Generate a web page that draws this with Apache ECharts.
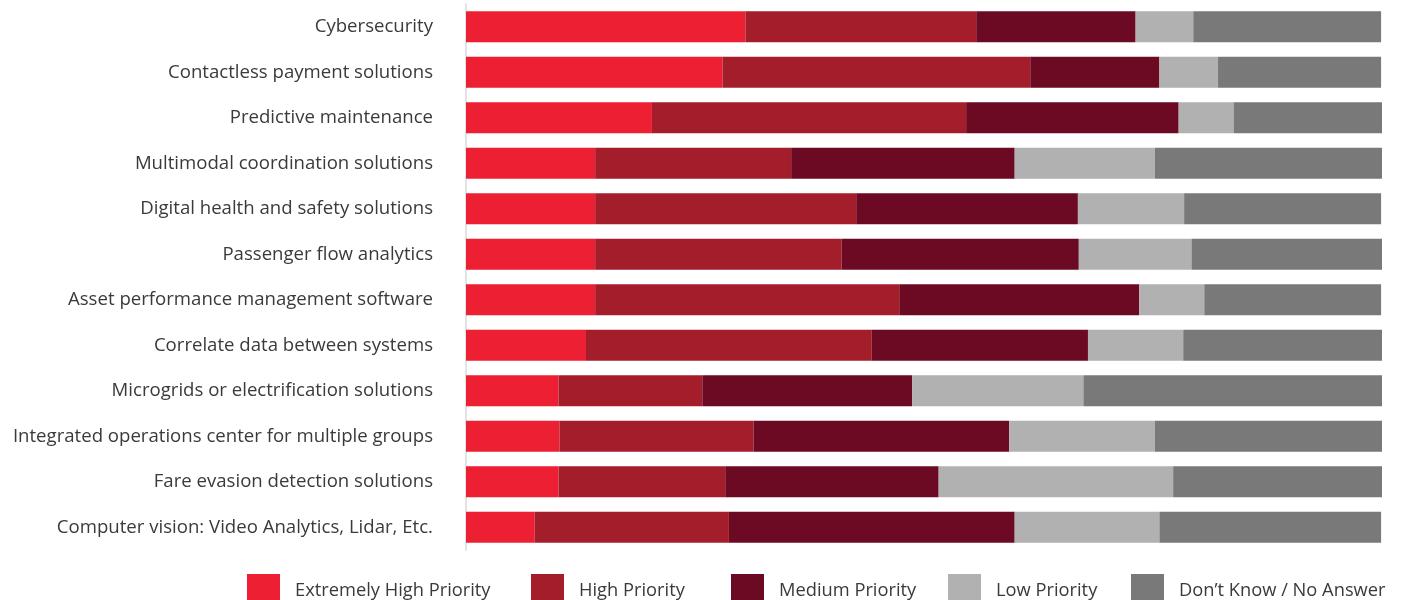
<!DOCTYPE html>
<html>
<head>
<meta charset="utf-8">
<script src="https://cdn.jsdelivr.net/npm/echarts@6/dist/echarts.min.js"></script>
<style>html,body{margin:0;padding:0;background:#fff;}#c{width:1401px;height:600px;}</style>
</head>
<body>
<div id="c"></div>
<script>
const categories = [
  "Cybersecurity",
  "Contactless payment solutions",
  "Predictive maintenance",
  "Multimodal coordination solutions",
  "Digital health and safety solutions",
  "Passenger flow analytics",
  "Asset performance management software",
  "Correlate data between systems",
  "Microgrids or electrification solutions",
  "Integrated operations center for multiple groups",
  "Fare evasion detection solutions",
  "Computer vision: Video Analytics, Lidar, Etc."
];
const seriesNames = ["Extremely High Priority", "High Priority", "Medium Priority", "Low Priority", "Don\u2019t Know / No Answer"];
const extremelyHigh = [30.5, 28.0, 20.3, 14.1, 14.1, 14.1, 14.1, 13.1, 10.1, 10.2, 10.1, 7.5];
const high          = [25.2, 33.6, 34.3, 21.4, 28.5, 26.9, 33.2, 31.2, 15.7, 21.2, 18.2, 21.2];
const medium        = [17.4, 14.1, 23.2, 24.4, 24.2, 25.9, 26.2, 23.6, 22.9, 27.9, 23.3, 31.2];
const low           = [6.3, 6.4, 6.0, 15.3, 11.6, 12.3, 7.1, 10.4, 18.7, 15.9, 25.6, 15.8];
const dontKnow      = [20.5, 17.8, 16.3, 24.8, 21.5, 20.8, 19.3, 21.7, 32.6, 24.8, 22.8, 24.2];
const colors = ["#ED1F33", "#A41D2B", "#6B0A22", "#B1B1B1", "#797979"];
const legendLefts = [247, 531, 731, 948, 1131];

const dataSets = [extremelyHigh, high, medium, low, dontKnow];
const chart = echarts.init(document.getElementById('c'), null, {renderer: 'canvas'});
chart.setOption({
  animation: false,
  textStyle: {fontFamily: "Open Sans"},
  grid: {left: 466, right: 19, top: 4, bottom: 50, containLabel: false},
  legend: seriesNames.map((n, i) => ({
    left: legendLefts[i], top: 574, padding: 0,
    itemWidth: 33, itemHeight: 33,
    icon: 'rect',
    selectedMode: false,
    textStyle: {fontSize: 18.3, color: '#3a3a3a', fontFamily: 'Open Sans', padding: [0, 0, 0, 10]},
    data: [n]
  })),
  xAxis: {type: 'value', min: 0, max: 100, show: false},
  yAxis: {
    type: 'category', data: categories, inverse: true,
    axisLine: {show: true, lineStyle: {color: '#E3E3E3', width: 2}},
    axisTick: {show: false},
    axisLabel: {fontSize: 18.6, color: '#3a3a3a', margin: 33, fontFamily: 'Open Sans'}
  },
  series: seriesNames.map((n, i) => ({
    name: n, type: 'bar', stack: 'all', barWidth: '68%',
    itemStyle: {color: colors[i]},
    data: dataSets[i]
  }))
});
</script>
</body>
</html>
